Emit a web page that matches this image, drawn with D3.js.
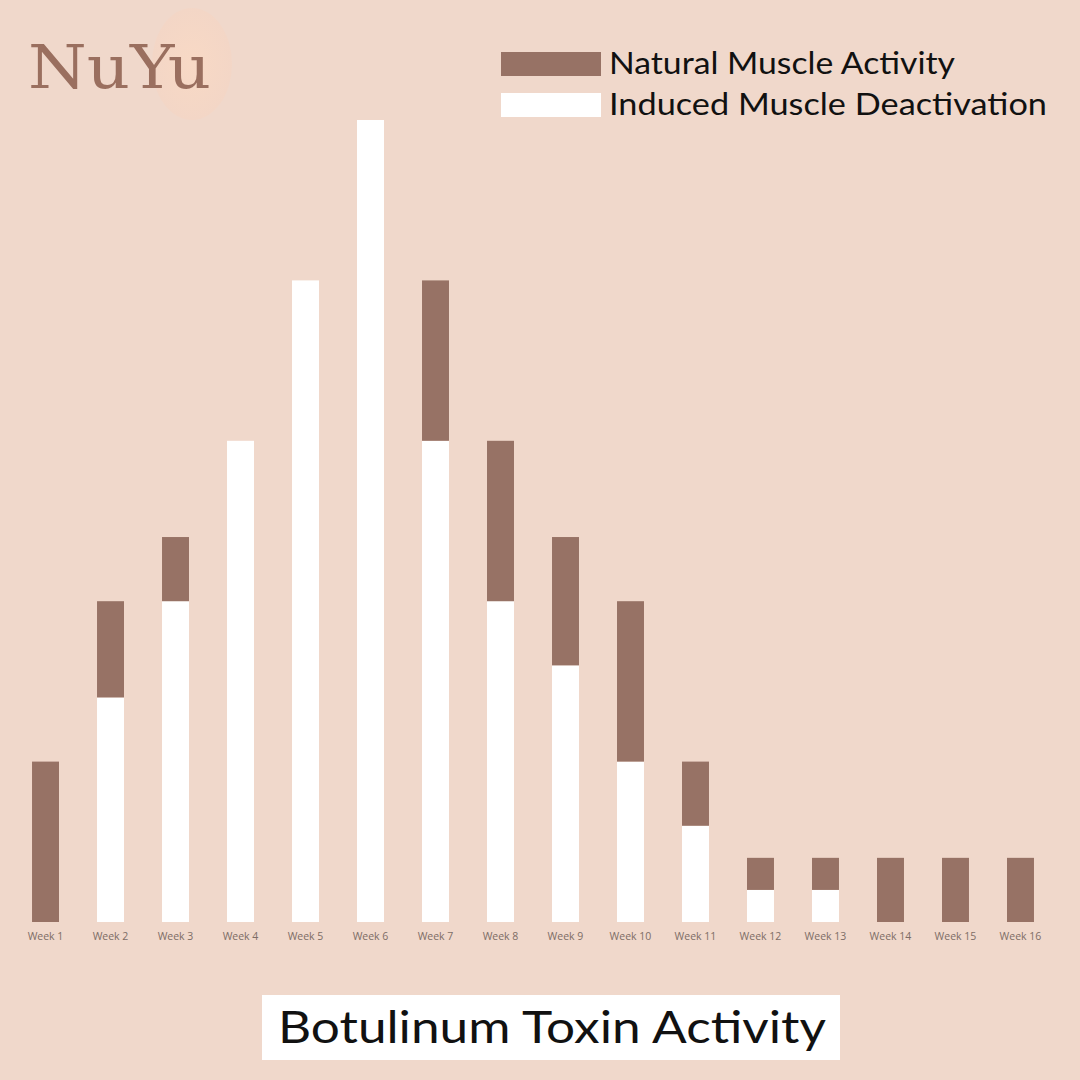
<!DOCTYPE html>
<html>
<head>
<meta charset="utf-8">
<script src="https://cdn.jsdelivr.net/npm/d3@7"></script>
<style>
  html, body { margin: 0; padding: 0; background: #f0d8cb; }
  svg { display: block; }
</style>
</head>
<body>
<div id="chart"></div>
<script>
(function () {

  var weeks = ['Week 1', 'Week 2', 'Week 3', 'Week 4', 'Week 5', 'Week 6', 'Week 7', 'Week 8',
               'Week 9', 'Week 10', 'Week 11', 'Week 12', 'Week 13', 'Week 14', 'Week 15', 'Week 16']
  var induced = [0, 7, 10, 15, 20, 25, 15, 10, 8, 5, 3, 1, 1, 0, 0, 0]
  var natural = [5, 3, 2, 0, 0, 0, 5, 5, 4, 5, 2, 1, 1, 2, 2, 2]
  var seriesNames = ['Natural Muscle Activity', 'Induced Muscle Deactivation']

  var width = 1080, height = 1080
  var brown = '#977265'

  var svg = d3.select('#chart')
    .append('svg')
    .attr('width', width)
    .attr('height', height)

  svg.append('rect')
    .attr('width', width)
    .attr('height', height)
    .attr('fill', '#f0d8cb')

  // logo, soft blob behind it
  var grad = svg.append('defs').append('radialGradient').attr('id', 'blob')
  grad.append('stop').attr('offset', '0%').attr('stop-color', '#f8d9c5')
  grad.append('stop').attr('offset', '100%').attr('stop-color', '#f3d6c6')
  svg.append('ellipse')
    .attr('cx', 192).attr('cy', 64)
    .attr('rx', 40).attr('ry', 56)
    .attr('fill', 'url(#blob)')
  svg.append('text')
    .attr('x', 28).attr('y', 88)
    .attr('font-family', 'DejaVu Serif Condensed, DejaVu Serif, serif')
    .attr('font-size', 60)
    .attr('textLength', 183)
    .attr('lengthAdjust', 'spacingAndGlyphs')
    .attr('fill', '#9a6f5f')
    .text('NuYu')

  var rows = weeks.map(function (w, i) {
    return { week: w, induced: induced[i], natural: natural[i] }
  })

  var xPositionScale = d3.scaleBand()
    .domain(weeks)
    .range([-6, 1072])
    .padding(0.585)

  var yPositionScale = d3.scaleLinear()
    .domain([0, 25])
    .range([922, 120])

  var stack = d3.stack().keys(['induced', 'natural'])
  var layers = stack(rows)
  var colors = { induced: '#ffffff', natural: brown }

  svg.selectAll('.layer')
    .data(layers)
    .enter().append('g')
    .attr('class', 'layer')
    .attr('fill', function (d) { return colors[d.key] })
    .selectAll('rect')
    .data(function (d) { return d })
    .enter().append('rect')
    .attr('x', function (d) { return xPositionScale(d.data.week) })
    .attr('y', function (d) { return yPositionScale(d[1]) })
    .attr('width', xPositionScale.bandwidth())
    .attr('height', function (d) { return yPositionScale(d[0]) - yPositionScale(d[1]) })

  var xAxis = d3.axisBottom(xPositionScale).tickSize(0).tickPadding(11)
  var xg = svg.append('g')
    .attr('class', 'axis x-axis')
    .attr('transform', 'translate(0,922)')
    .call(xAxis)
  xg.select('.domain').remove()
  xg.selectAll('text')
    .attr('font-family', 'Open Sans, Noto Sans, sans-serif')
    .attr('font-size', 10.5)
    .attr('fill', '#7d6d66')

  // legend
  var legend = svg.selectAll('.legend')
    .data(seriesNames)
    .enter().append('g')
    .attr('class', 'legend')
    .attr('transform', function (d, i) { return 'translate(501,' + (52 + i * 41) + ')' })
  legend.append('rect')
    .attr('width', 100)
    .attr('height', 24)
    .attr('fill', function (d, i) { return i === 0 ? brown : '#ffffff' })
  legend.append('text')
    .attr('x', 108)
    .attr('y', 22)
    .attr('font-family', 'Lato, Open Sans, sans-serif')
    .attr('font-size', 31)
    .attr('fill', '#111')
    .attr('textLength', function (d, i) { return i === 0 ? 346 : 438 })
    .attr('lengthAdjust', 'spacingAndGlyphs')
    .text(function (d) { return d })

  // title
  svg.append('rect')
    .attr('x', 262).attr('y', 995)
    .attr('width', 578).attr('height', 65)
    .attr('fill', '#ffffff')
  svg.append('text')
    .attr('x', 278).attr('y', 1043)
    .attr('font-family', 'Lato, Open Sans, sans-serif')
    .attr('font-size', 44)
    .attr('fill', '#111')
    .attr('textLength', 548)
    .attr('lengthAdjust', 'spacingAndGlyphs')
    .text('Botulinum Toxin Activity')

})()
</script>
</body>
</html>
